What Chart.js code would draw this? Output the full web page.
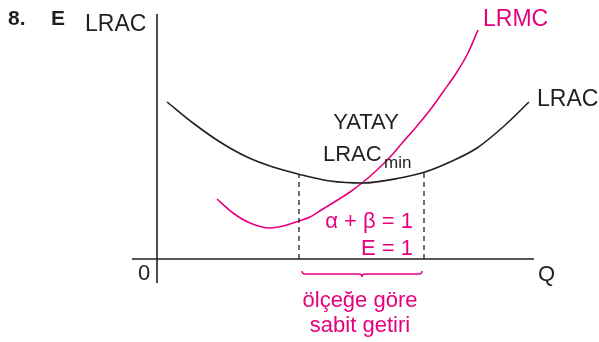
<!DOCTYPE html>
<html>
<head>
<meta charset="utf-8">
<script src="https://cdn.jsdelivr.net/npm/chart.js@4/dist/chart.umd.min.js"></script>
<style>
html,body{margin:0;padding:0;background:#fff;}
#wrap{width:599px;height:342px;position:relative;}
</style>
</head>
<body>
<div id="wrap"><canvas id="c"></canvas></div>
<script>
// Quantity (Q) and cost values (origin at the axes' crossing)
const lracQ    = [10, 36, 63, 90, 116, 141, 173, 206, 243, 268, 293, 320, 346, 372];
const lracCost = [157, 136, 117, 102, 92, 85, 78, 76, 81, 87, 97, 111, 132, 157];
const lrmcQ    = [60, 76, 93, 113, 130, 142, 153, 166, 193, 205, 220, 233, 246, 260, 273, 286, 300, 311, 321];
const lrmcCost = [60, 46, 36, 31, 34, 38, 42, 50, 67, 76, 89, 102, 117, 133, 149, 167, 187, 206, 229];
// constant-returns range (dashed limits) and LRAC there
const rangeQ    = [142, 267];
const rangeCost = [85, 87];
// axis extents
const axisQ    = [-25, 377];
const axisCost = [-24, 245];

const BLACK = '#231f20';
const MAGENTA = '#e6007e';

const toPts = (xs, ys) => xs.map((x, i) => ({x, y: ys[i]}));

const datasets = [
  {data: [{x: axisQ[0], y: 0}, {x: axisQ[1], y: 0}], borderColor: BLACK, borderWidth: 1.6},
  {data: [{x: 0, y: axisCost[0]}, {x: 0, y: axisCost[1]}], borderColor: BLACK, borderWidth: 1.6},
  {data: [{x: rangeQ[0], y: 0}, {x: rangeQ[0], y: rangeCost[0]}], borderColor: BLACK, borderWidth: 1.3, borderDash: [5, 4]},
  {data: [{x: rangeQ[1], y: 0}, {x: rangeQ[1], y: rangeCost[1]}], borderColor: BLACK, borderWidth: 1.3, borderDash: [5, 4]},
  {data: toPts(lracQ, lracCost), borderColor: BLACK, borderWidth: 1.6, cubicInterpolationMode: 'monotone'},
  {data: toPts(lrmcQ, lrmcCost), borderColor: MAGENTA, borderWidth: 1.6, cubicInterpolationMode: 'monotone'}
].map(d => Object.assign({showLine: true, pointRadius: 0, fill: false}, d));

// text labels anchored in chart values
const FONT = '"Liberation Sans", Arial, Helvetica, sans-serif';
const labels = [
  {t: '8.', x: -149, y: 234, c: BLACK, f: 'bold 21px', a: 'left'},
  {t: 'E', x: -106, y: 234, c: BLACK, f: 'bold 21px', a: 'left'},
  {t: 'LRAC', x: -72, y: 228, c: BLACK, f: '23px', a: 'left'},
  {t: 'LRMC', x: 326, y: 233, c: MAGENTA, f: '23px', a: 'left'},
  {t: 'LRAC', x: 380, y: 153, c: BLACK, f: '23px', a: 'left'},
  {t: 'YATAY', x: 209, y: 130, c: BLACK, f: '22px', a: 'center'},
  {t: 'LRAC', x: 166, y: 98, c: BLACK, f: '22px', a: 'left'},
  {t: 'min', x: 227, y: 91, c: BLACK, f: '17px', a: 'left'},
  {t: 'α + β = 1', x: 256, y: 31, c: MAGENTA, f: '22px', a: 'right'},
  {t: 'E = 1', x: 256, y: 4, c: MAGENTA, f: '22px', a: 'right'},
  {t: '0', x: -19, y: -21, c: BLACK, f: '22px', a: 'left'},
  {t: 'Q', x: 381, y: -22, c: BLACK, f: '22px', a: 'left'},
  {t: 'ölçeğe göre', x: 203, y: -48, c: MAGENTA, f: '22px', a: 'center'},
  {t: 'sabit getiri', x: 203, y: -73, c: MAGENTA, f: '22px', a: 'center'}
];

const overlay = {
  id: 'overlay',
  afterDatasetsDraw(chart) {
    const {ctx, scales: {x, y}} = chart;
    ctx.save();
    // brace under the constant-returns range
    const x0 = x.getPixelForValue(rangeQ[0]) + 3;
    const x1 = x.getPixelForValue(rangeQ[1]) - 2;
    const xm = (x0 + x1) / 2;
    const yTop = y.getPixelForValue(-12);
    const yMid = y.getPixelForValue(-15);
    const yTip = y.getPixelForValue(-18);
    const r = 3;
    ctx.strokeStyle = MAGENTA;
    ctx.lineWidth = 1.4;
    ctx.beginPath();
    ctx.moveTo(x0, yTop);
    ctx.quadraticCurveTo(x0, yMid, x0 + r, yMid);
    ctx.lineTo(xm - r, yMid);
    ctx.quadraticCurveTo(xm, yMid, xm, yTip);
    ctx.quadraticCurveTo(xm, yMid, xm + r, yMid);
    ctx.lineTo(x1 - r, yMid);
    ctx.quadraticCurveTo(x1, yMid, x1, yTop);
    ctx.stroke();
    // labels
    ctx.textBaseline = 'alphabetic';
    labels.forEach(l => {
      ctx.font = l.f + ' ' + FONT;
      ctx.fillStyle = l.c;
      ctx.textAlign = l.a;
      ctx.fillText(l.t, x.getPixelForValue(l.x), y.getPixelForValue(l.y));
    });
    ctx.restore();
  }
};

new Chart(document.getElementById('c'), {
  type: 'scatter',
  data: {datasets},
  options: {
    responsive: true,
    maintainAspectRatio: false,
    animation: false,
    layout: {padding: 0},
    plugins: {legend: {display: false}, tooltip: {enabled: false}},
    scales: {
      x: {type: 'linear', display: false, min: -157, max: 442},
      y: {type: 'linear', display: false, min: -83, max: 259}
    }
  },
  plugins: [overlay]
});
</script>
</body>
</html>
